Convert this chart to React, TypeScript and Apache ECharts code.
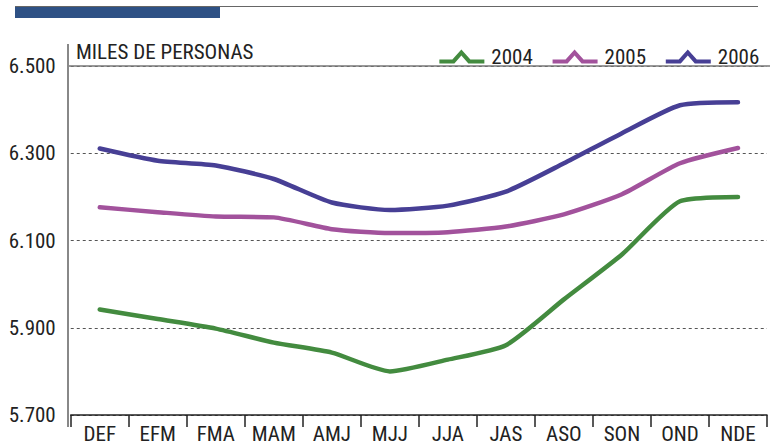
import React, { useEffect, useRef } from "react";
import * as echarts from "echarts";

const categories = ["DEF", "EFM", "FMA", "MAM", "AMJ", "MJJ", "JJA", "JAS", "ASO", "SON", "OND", "NDE"];
const seriesNames = ["2004", "2005", "2006"];
const values2004 = [5942, 5920, 5898, 5866, 5843, 5800, 5827, 5860, 5965, 6068, 6190, 6200];
const values2005 = [6176, 6165, 6155, 6153, 6126, 6117, 6119, 6132, 6160, 6206, 6277, 6312];
const values2006 = [6311, 6283, 6272, 6241, 6187, 6170, 6180, 6212, 6277, 6346, 6410, 6417];
const colors = ["#438b3f", "#a2529c", "#473f95"];
const yMin = 5700;
const yMax = 6500;
const yInterval = 200;
const unitLabel = "MILES DE PERSONAS";

const FONT = "Roboto, 'DejaVu Sans Condensed', sans-serif";
const legendIcon = "path://M0,10 L13,10 L22,0 L31,10 L45,10 L45,14 L29,14 L22,6 L15,14 L0,14 Z";

export default function App() {
  const ref = useRef<HTMLDivElement>(null);
  useEffect(() => {
    const st = document.createElement("style");
    st.textContent = "svg text { font-stretch: 75% !important; }";
    document.head.appendChild(st);
    if (!ref.current) return;
    const chart = echarts.init(ref.current, null, { renderer: "svg" });
    const all = [values2004, values2005, values2006];
    chart.setOption({
      animation: false,
      backgroundColor: "#ffffff",
      textStyle: { fontFamily: FONT },
      grid: { left: 68, right: 3, top: 66, bottom: 30, containLabel: false },
      legend: {
        right: 0,
        top: 41,
        itemWidth: 45,
        itemHeight: 15,
        itemGap: 14,
        icon: legendIcon,
        textStyle: { fontFamily: FONT, fontSize: 21, color: "#222", width: 40, padding: [0, 0, 0, 2] },
        data: seriesNames,
      },
      xAxis: {
        type: "category",
        data: categories,
        boundaryGap: true,
        axisLine: { show: true, lineStyle: { color: "#222", width: 1.5 } },
        axisTick: { show: true, interval: 0, length: 12, lineStyle: { color: "#222", width: 1.5 } },
        axisLabel: { interval: 0, fontFamily: FONT, fontSize: 21, color: "#222", margin: 8 },
        splitLine: { show: false },
      },
      yAxis: {
        type: "value",
        min: yMin,
        max: yMax,
        interval: yInterval,
        axisLine: { show: false },
        axisTick: { show: false },
        axisLabel: {
          fontFamily: FONT,
          fontSize: 21,
          color: "#222",
          margin: 15,
          formatter: (v: number) => (v / 1000).toFixed(3),
        },
        splitLine: { show: true, lineStyle: { color: "#555", type: [3, 3], width: 1 } },
      },
      graphic: [
        { type: "line", shape: { x1: 15, y1: 6.5, x2: 758, y2: 6.5 }, style: { stroke: "#666", lineWidth: 1 }, z: 10 },
        { type: "rect", shape: { x: 15, y: 7, width: 205, height: 11 }, style: { fill: "#2e5185" }, z: 10 },
        { type: "line", shape: { x1: 68, y1: 66, x2: 770, y2: 66 }, style: { stroke: "#777", lineWidth: 1.5 }, z: 10 },
        { type: "line", shape: { x1: 68, y1: 44, x2: 68, y2: 427 }, style: { stroke: "#888", lineWidth: 2 }, z: 10 },
        {
          type: "text",
          x: 76,
          y: 41,
          style: { text: unitLabel, fontFamily: FONT, fontSize: 21, fill: "#222" },
          z: 10,
        },
      ],
      series: seriesNames.map((name, i) => ({
        name,
        type: "line",
        data: all[i],
        smooth: 0.2,
        showSymbol: false,
        symbol: "none",
        lineStyle: { color: colors[i], width: 4.5, cap: "round", join: "round" },
        itemStyle: { color: colors[i] },
        z: 3 + i,
      })),
    });
    return () => chart.dispose();
  }, []);
  return <div ref={ref} style={{ position: "fixed", left: 0, top: 0, width: 770, height: 445 }} />;
}
